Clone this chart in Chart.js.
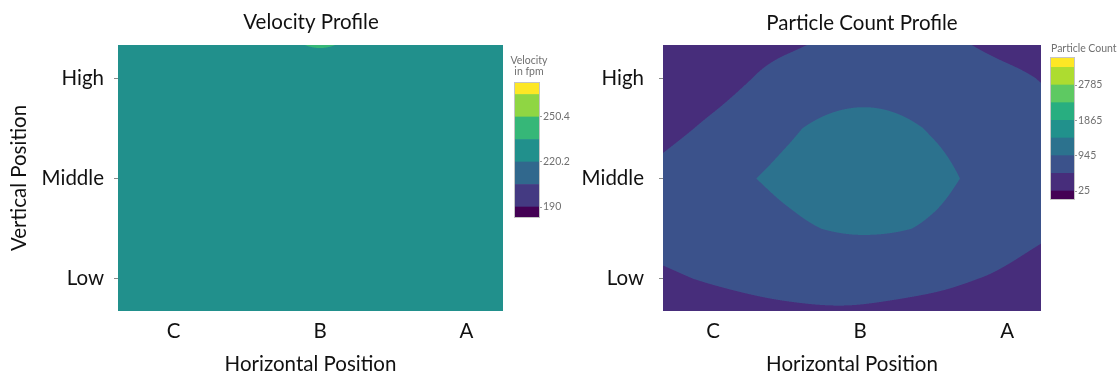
<!DOCTYPE html>
<html><head><meta charset="utf-8">
<script src="https://cdn.jsdelivr.net/npm/chart.js@4.4.1/dist/chart.umd.min.js"></script>
<style>
html,body{margin:0;padding:0;background:#fff;}
#wrap{position:relative;width:1119px;height:377px;overflow:hidden;background:#fff;}
canvas{position:absolute;}
</style></head><body>
<div id="wrap">
<canvas id="velMain" style="left:0px;top:0px" width="560" height="377"></canvas>
<canvas id="pcMain" style="left:560px;top:0px" width="559" height="377"></canvas>
<canvas id="velBar" style="left:505px;top:40px" width="80" height="190"></canvas>
<canvas id="pcBar" style="left:1040px;top:40px" width="79" height="175"></canvas>
</div>
<script>
// ---------------- DATA ----------------
const xCategories = ['C', 'B', 'A'];          // Horizontal Position (index 0,1,2)
const yCategories = ['Low', 'Middle', 'High']; // Vertical Position (index 0,1,2)

// grid node positions (in category units) where field values were estimated
const gridX = [-0.5, 0, 0.5, 1, 1.5, 2, 2.5];
const gridY = [-0.5, 0, 0.5, 1, 1.5, 2, 2.5];

// Velocity (fpm), rows = gridY (bottom to top), cols = gridX (C side to A side)
const velocityGrid = [
  [226, 226, 227, 227, 227, 226, 226],
  [226, 227, 228, 228, 228, 227, 226],
  [227, 228, 229, 229, 229, 228, 227],
  [227, 228, 229, 230, 229, 228, 227],
  [227, 228, 229, 230, 229, 228, 227],
  [227, 228, 229, 229, 229, 228, 227],
  [227, 228, 229, 239.5, 229, 228, 227]
];

// Particle count, rows = gridY (bottom to top), cols = gridX
const particleGrid = [
  [300, 373, 416, 418, 339, 250, 200],
  [437, 500, 540, 555, 540, 440, 330],
  [539, 620, 856, 1000, 891, 600, 459],
  [519, 788, 1050, 1280, 1060, 741, 620],
  [280, 560, 884, 1100, 913, 680, 605],
  [150, 318, 620, 730, 700, 560, 353],
  [80, 200, 335, 530, 505, 308, 220]
];

const velocityLevels = [190, 205.1, 220.2, 235.3, 250.4, 265.5];
const velocityTicks = [190, 220.2, 250.4];
const velocityTickLabels = ['190', '220.2', '250.4'];
const velocityColors = ['#440154', '#443a82', '#31688d', '#21908c', '#36b778', '#8fd643', '#fde725'];

const particleLevels = [25, 485, 945, 1405, 1865, 2325, 2785, 3245];
const particleTicks = [25, 945, 1865, 2785];
const particleTickLabels = ['25', '945', '1865', '2785'];
const particleColors = ['#440154', '#472d7b', '#3b528b', '#2c728e', '#21918c', '#28ae80', '#5ec962', '#addc30', '#fde725'];

// ---------------- HELPERS ----------------
const FAMILY = 'Lato, "Open Sans", sans-serif';
Chart.defaults.font.family = FAMILY;
const FONT_MAIN = {family: FAMILY, size: 20.5};

function hexToRgb(h) {
  const n = parseInt(h.slice(1), 16);
  return [(n >> 16) & 255, (n >> 8) & 255, n & 255];
}
function cellIndex(arr, v) {
  for (let k = 0; k < arr.length - 2; k++) { if (v < arr[k + 1]) return k; }
  return arr.length - 2;
}
// Catmull-Rom along a row (x direction)
function rowValue(row, i, t) {
  const p1 = row[i], p2 = row[i + 1];
  const p0 = i > 0 ? row[i - 1] : 2 * p1 - p2;
  const p3 = i + 2 < row.length ? row[i + 2] : 2 * p2 - p1;
  return 0.5 * (2 * p1 + (-p0 + p2) * t + (2 * p0 - 5 * p1 + 4 * p2 - p3) * t * t +
                (-p0 + 3 * p1 - 3 * p2 + p3) * t * t * t);
}
function sampleGrid(gx, gy, g, x, y) {
  const i = cellIndex(gx, x), j = cellIndex(gy, y);
  const tx = (x - gx[i]) / (gx[i + 1] - gx[i]);
  const ty = (y - gy[j]) / (gy[j + 1] - gy[j]);
  const a = rowValue(g[j], i, tx), b = rowValue(g[j + 1], i, tx);
  return a * (1 - ty) + b * ty;
}

function contourPlugin(gx, gy, grid, levels, colors) {
  const rgb = colors.map(hexToRgb);
  return {
    id: 'contourFill',
    beforeDatasetsDraw(chart) {
      const {ctx, chartArea: a, scales} = chart;
      const L = Math.round(a.left), T = Math.round(a.top);
      const W = Math.round(a.right) - L, H = Math.round(a.bottom) - T;
      const img = ctx.createImageData(W, H);
      const d = img.data;
      const S = 3;
      const xs = [], ys = [];
      for (let p = 0; p < W * S; p++) xs.push(scales.x.getValueForPixel(L + (p + 0.5) / S));
      for (let p = 0; p < H * S; p++) ys.push(scales.y.getValueForPixel(T + (p + 0.5) / S));
      for (let py = 0; py < H; py++) {
        for (let px = 0; px < W; px++) {
          let r = 0, g = 0, b = 0;
          for (let sy = 0; sy < S; sy++) {
            for (let sx = 0; sx < S; sx++) {
              const v = sampleGrid(gx, gy, grid, xs[px * S + sx], ys[py * S + sy]);
              let k = 0;
              while (k < levels.length && v >= levels[k]) k++;
              const c = rgb[k];
              r += c[0]; g += c[1]; b += c[2];
            }
          }
          const o = (py * W + px) * 4, n = S * S;
          d[o] = r / n; d[o + 1] = g / n; d[o + 2] = b / n; d[o + 3] = 255;
        }
      }
      ctx.putImageData(img, L, T);
    }
  };
}

function textPlugin(items) {
  return {
    id: 'texts',
    afterDraw(chart) {
      const ctx = chart.ctx;
      items.forEach(it => {
        ctx.save();
        ctx.font = it.font;
        ctx.fillStyle = it.color;
        ctx.textAlign = it.align || 'center';
        ctx.textBaseline = 'middle';
        ctx.fillText(it.text, it.x, it.y);
        ctx.restore();
      });
    }
  };
}

const outlinePlugin = {
  id: 'outline',
  afterDatasetsDraw(chart) {
    const {ctx, chartArea: a} = chart;
    ctx.save();
    ctx.strokeStyle = '#c4c4c4';
    ctx.lineWidth = 1;
    ctx.strokeRect(Math.round(a.left) - 0.5, Math.round(a.top) - 0.5,
                   Math.round(a.right - a.left) + 1, Math.round(a.bottom - a.top) + 1);
    ctx.restore();
  }
};

function mainChart(id, o) {
  const nodes = [];
  gridY.forEach(y => gridX.forEach(x => nodes.push({x, y})));
  return new Chart(document.getElementById(id), {
    type: 'scatter',
    data: {datasets: [{data: nodes, pointRadius: 0, showLine: false}]},
    options: {
      responsive: false, animation: false, devicePixelRatio: 1,
      layout: {padding: {top: 45, right: o.padR, left: 0, bottom: 0}},
      plugins: {legend: {display: false}, tooltip: {enabled: false}, title: {display: false}},
      scales: {
        x: {
          type: 'linear', min: o.xmin, max: o.xmax,
          afterBuildTicks: s => { s.ticks = xCategories.map((c, i) => ({value: i})); },
          ticks: {callback: v => xCategories[v], font: FONT_MAIN, color: '#111', padding: 8, maxRotation: 0, autoSkip: false},
          grid: {display: false, drawTicks: false},
          border: {display: false},
          title: {display: true, text: 'Horizontal Position', font: FONT_MAIN, color: '#111', padding: {top: 0, bottom: 0}},
          afterFit: s => { s.height = 66; }
        },
        y: {
          type: 'linear', min: -0.32, max: 2.33,
          afterBuildTicks: s => { s.ticks = yCategories.map((c, i) => ({value: i})); },
          ticks: {callback: v => yCategories[v], font: FONT_MAIN, color: '#111', padding: o.yPad, autoSkip: false},
          grid: {drawOnChartArea: false, drawTicks: true, tickLength: 4, color: '#8a8a8a'},
          border: {display: false},
          title: {display: o.yTitle, text: 'Vertical Position', font: FONT_MAIN, color: '#111', padding: {top: 7, bottom: 0}},
          afterFit: s => { s.width = o.yW; }
        }
      }
    },
    plugins: [contourPlugin(gridX, gridY, o.grid, o.levels, o.colors), textPlugin(o.texts)]
  });
}

function colorbar(id, o) {
  const bounds = [o.min, ...o.levels, o.max];
  const datasets = o.colors.map((c, i) => ({
    data: [[bounds[i], bounds[i + 1]]], backgroundColor: c, borderWidth: 0,
    grouped: false, barPercentage: 1, categoryPercentage: 1
  }));
  return new Chart(document.getElementById(id), {
    type: 'bar',
    data: {labels: [''], datasets},
    options: {
      responsive: false, animation: false, devicePixelRatio: 1,
      layout: {padding: o.pad},
      plugins: {legend: {display: false}, tooltip: {enabled: false}},
      scales: {
        x: {display: false},
        y: {
          position: 'right', min: o.min, max: o.max,
          afterBuildTicks: s => { s.ticks = o.ticks.map(v => ({value: v})); },
          ticks: {callback: (v, i) => o.tickLabels[i], font: {size: 10.5}, color: '#707070', padding: 1},
          grid: {drawOnChartArea: false, tickLength: 3, color: '#9a9a9a'},
          border: {display: false},
          afterFit: s => { s.width = o.axisW; }
        }
      }
    },
    plugins: [outlinePlugin, textPlugin(o.texts)]
  });
}

// ---------------- CHARTS ----------------
mainChart('velMain', {
  xmin: -0.38, xmax: 2.25, padR: 57, yW: 118, yPad: 10, yTitle: true,
  grid: velocityGrid, levels: velocityLevels, colors: velocityColors,
  texts: [{text: 'Velocity Profile', x: 311, y: 22, font: '20.5px ' + FAMILY, color: '#111'}]
});
mainChart('pcMain', {
  xmin: -0.34, xmax: 2.23, padR: 78, yW: 103, yPad: 15, yTitle: false,
  grid: particleGrid, levels: particleLevels, colors: particleColors,
  texts: [{text: 'Particle Count Profile', x: 302, y: 23, font: '20.5px ' + FAMILY, color: '#111'}]
});
colorbar('velBar', {
  min: 183.3, max: 273.2, levels: velocityLevels, colors: velocityColors,
  ticks: velocityTicks, tickLabels: velocityTickLabels,
  pad: {left: 10, right: 0, top: 43, bottom: 13}, axisW: 46,
  texts: [
    {text: 'Velocity', x: 24, y: 21, font: '10.5px ' + FAMILY, color: '#707070'},
    {text: 'in fpm', x: 24, y: 32, font: '10.5px ' + FAMILY, color: '#707070'}
  ]
});
colorbar('pcBar', {
  min: -183, max: 3488, levels: particleLevels, colors: particleColors,
  ticks: particleTicks, tickLabels: particleTickLabels,
  pad: {left: 11, right: 0, top: 18, bottom: 16}, axisW: 45,
  texts: [{text: 'Particle Count', x: 11, y: 9, align: 'left', font: '10.5px ' + FAMILY, color: '#707070'}]
});
</script>
</body></html>
